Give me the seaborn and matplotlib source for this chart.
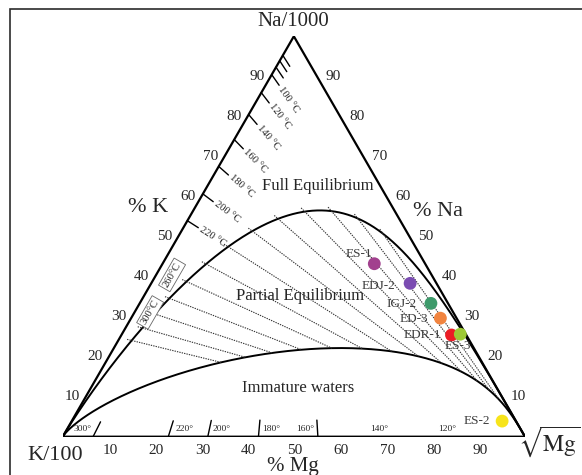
import numpy as np
import pandas as pd
import matplotlib
matplotlib.use("Agg")
import matplotlib.pyplot as plt
from matplotlib.patches import Rectangle
import seaborn as sns

# ---- water samples: ternary percentages of Na/1000, K/100 and sqrt(Mg) ----
samples = ["ES-1", "EDJ-2", "IGJ-2", "ED-3", "EDR-1", "ES-3", "ES-2"]
na_pct = [43.2, 38.3, 33.3, 29.6, 25.4, 25.6, 3.9]
k_pct = [11.0, 5.7, 3.7, 3.5, 3.2, 1.2, 3.0]
mg_pct = [45.8, 56.0, 63.0, 66.9, 71.4, 73.2, 93.1]
sample_colors = ["#a2418e", "#7b4cb2", "#3e9a6b", "#f1843f", "#ec1d25", "#9dca35", "#f7e41b"]

edge_values = [10, 20, 30, 40, 50, 60, 70, 80, 90]

# Giggenbach (1988) geothermometers
NAK_A, NAK_B = 1.75, 1390.0      # log(K/Na)  = NAK_A - NAK_B / T
KMG_A, KMG_B = 14.0, 4410.0      # log(K2/Mg) = KMG_A - KMG_B / T
MI_IMMATURE = 2.0                # maturity index bounding the immature waters

nak_plain = [70, 80, 90]
nak_labelled = [100, 120, 140, 160, 180, 200, 220]
nak_boxed = [260, 300]
nak_isotherms = [100, 120, 140, 160, 180, 200, 220, 240, 260, 280, 300, 320, 340]
kmg_ticked = [300, 220, 200, 180, 160]
kmg_labelled = [300, 220, 200, 180, 160, 140, 120]

# label placement (pixels) for sample names and K-Mg temperatures
name_offset = {"ES-1": (-2, 10, "right"), "EDJ-2": (-15, -3, "right"),
               "IGJ-2": (-14, -1, "right"), "ED-3": (-12, -1, "right"),
               "EDR-1": (-10, 0, "right"), "ES-3": (-2, -12, "center"),
               "ES-2": (-12, 0, "right")}
kmg_label_shift = {300: -2.3, 220: 3.6, 200: 3.0, 180: 2.8, 160: -2.8, 140: 0.0, 120: 3.0}

SQ3 = np.sqrt(3.0)
H = 100 * SQ3 / 2
MG_VERTEX = np.array([100.0, 0.0])
NA_VERTEX = np.array([50.0, H])


def tern_xy(na, k, mg):
    na, k, mg = (np.asarray(v, dtype=float) for v in (na, k, mg))
    s = na + k + mg
    pna = 100 * na / s
    pmg = 100 * mg / s
    return pmg + pna / 2, pna * SQ3 / 2


def na_per_k(t):
    return 10 ** (NAK_B / (t + 273.15) - NAK_A)


def sqrt_mg_per_k(t):
    return 10 ** (-(KMG_A - KMG_B / (t + 273.15)) / 2)


def unit(v):
    return v / np.hypot(*v)


sns.set_theme(style="white")
plt.rcParams["font.family"] = ["Liberation Serif", "DejaVu Serif"]
plt.rcParams["mathtext.fontset"] = "stix"

fig = plt.figure(figsize=(5.82, 4.75), dpi=100)
ax = fig.add_axes([62.7 / 582, 38.3 / 475, 462.3 / 582, 400.4 / 475])
ax.set_xlim(0, 100)
ax.set_ylim(0, H)
ax.axis("off")

# outer frame
fig.patches.append(Rectangle((9.5 / 582, -0.2), 2.0, 1.2 - 8.5 / 475, transform=fig.transFigure,
                             fill=False, ec="#2b2b2b", lw=1.2, zorder=0))

# triangle
tri = pd.DataFrame({"x": [0, 100, 50, 0], "y": [0, 0, H, 0]})
sns.lineplot(data=tri, x="x", y="y", sort=False, estimator=None, color="black", lw=1.6, ax=ax)

# full equilibrium and immature-water curves
s = np.logspace(-9, 7, 1500)
mi_full = 0.315 * KMG_A - NAK_A
for mi in (mi_full, MI_IMMATURE):
    na = 10 ** (mi + 0.63 * np.log10(s))
    cx, cy = tern_xy(na / 1000, 0.01, s)
    cx = np.concatenate([[0.0], cx, [100.0]])
    cy = np.concatenate([[0.0], cy, [0.0]])
    sns.lineplot(x=cx, y=cy, sort=False, estimator=None, color="black", lw=1.4, ax=ax)

# Na/K isotherms across the partial-equilibrium field
for t in nak_isotherms:
    na = na_per_k(t)
    s_full = sqrt_mg_per_k(t)
    s_imm = (na / 10 ** MI_IMMATURE) ** (1 / 0.63)
    p0 = np.array(tern_xy(na / 1000, 0.01, s_full))
    p1 = np.array(tern_xy(na / 1000, 0.01, s_imm))
    p0 = p0 - unit(MG_VERTEX - p0) * 1.0
    ax.plot([p0[0], p1[0]], [p0[1], p1[1]], color="#333333", lw=0.8, ls=(0, (1.2, 1.0)))

# Na/K ticks on the K-Na edge
for t in nak_plain + nak_labelled:
    p = np.array(tern_xy(na_per_k(t) / 1000, 0.01, 0))
    d = unit(MG_VERTEX - p)
    q = p + d * 2.8
    ax.plot([p[0], q[0]], [p[1], q[1]], color="black", lw=1.0)
    if t in nak_labelled:
        r = p + d * 3.3
        ang = np.degrees(np.arctan2(d[1], d[0]))
        ax.text(r[0], r[1], f"{t} °C", rotation=ang, rotation_mode="anchor",
                ha="left", va="center", fontsize=7.6)

for t in nak_boxed:
    p = np.array(tern_xy(na_per_k(t) / 1000, 0.01, 0))
    r = p + unit(MG_VERTEX - p) * 3.0
    ax.text(r[0], r[1], f"{t}°C", rotation=60, ha="center", va="center", fontsize=7.6,
            bbox=dict(boxstyle="square,pad=0.2", fc="white", ec="#666666", lw=0.6))

# K/Mg ticks on the K-Mg edge
for t in kmg_labelled:
    p = np.array(tern_xy(0, 0.01, sqrt_mg_per_k(t)))
    if t in kmg_ticked:
        q = p + unit(NA_VERTEX - p) * 3.6
        ax.plot([p[0], q[0]], [p[1], q[1]], color="black", lw=1.0)
    ax.text(p[0] + kmg_label_shift[t], 1.6, f"{t}°", ha="center", va="center", fontsize=6.8)

# edge scales
for v in edge_values:
    lx, ly = tern_xy(v, 100 - v, 0)
    ax.annotate(str(v), (lx, ly), xytext=(-6, 0), textcoords="offset pixels",
                ha="right", va="center", fontsize=11)
    rx, ry = tern_xy(v, 0, 100 - v)
    ax.annotate(str(v), (rx, ry), xytext=(9, 0), textcoords="offset pixels",
                ha="left", va="center", fontsize=11)
    bx, by = tern_xy(0, 100 - v, v)
    ax.annotate(str(v), (bx, by), xytext=(1, -14), textcoords="offset pixels",
                ha="center", va="center", fontsize=11)

# axis titles
fig.text(293 / 582, 1 - 21 / 475, "Na/1000", ha="center", va="center", fontsize=15)
fig.text(148 / 582, 1 - 207 / 475, "% K", ha="center", va="center", fontsize=16)
fig.text(438 / 582, 1 - 211 / 475, "% Na", ha="center", va="center", fontsize=16)
fig.text(55 / 582, 1 - 456 / 475, "K/100", ha="center", va="center", fontsize=16)
fig.text(549 / 582, 1 - 442 / 475, r"$\sqrt{\mathrm{Mg}}$", ha="center", va="center", fontsize=17)
fig.text(293 / 582, 1 - 466 / 475, "% Mg", ha="center", va="center", fontsize=15)

# field names
ax.text(55.2, 54.2, "Full Equilibrium", ha="center", va="center", fontsize=12)
ax.text(51.3, 30.4, "Partial Equilibrium", ha="center", va="center", fontsize=12)
ax.text(50.9, 10.5, "Immature waters", ha="center", va="center", fontsize=12)

# samples
px, py = tern_xy(na_pct, k_pct, mg_pct)
df = pd.DataFrame({"sample": samples, "x": px, "y": py})
sns.scatterplot(data=df, x="x", y="y", hue="sample", palette=dict(zip(samples, sample_colors)),
                s=85, edgecolor="none", legend=False, zorder=5, ax=ax)
for name, x, y in zip(samples, px, py):
    dx, dy, ha = name_offset[name]
    ax.annotate(name, (x, y), xytext=(dx, dy), textcoords="offset pixels",
                ha=ha, va="center", fontsize=9.5, color="#3c3c3c", zorder=6)

ax.set_xlabel("")
ax.set_ylabel("")
fig.savefig("out.png", dpi=100)
